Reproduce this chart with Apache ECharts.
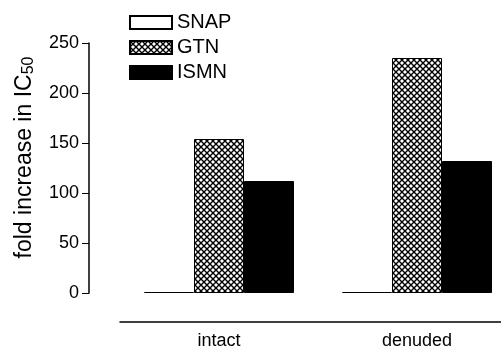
<!DOCTYPE html>
<html>
<head>
<meta charset="utf-8">
<script src="https://cdn.jsdelivr.net/npm/echarts@6/dist/echarts.min.js"></script>
<style>
  html, body { margin: 0; padding: 0; background: #fff; }
  #chart { width: 501px; height: 348px; }
</style>
</head>
<body>
<div id="chart"></div>
<script>
const categories = ['intact', 'denuded'];
const snap = [1, 1];
const gtn = [154, 235];
const ismn = [112, 132];
const yTicks = [0, 50, 100, 150, 200, 250];

// cross hatch tile
function hatch() {
  const c = document.createElement('canvas');
  c.width = 6; c.height = 6;
  const g = c.getContext('2d');
  g.fillStyle = '#fff';
  g.fillRect(0, 0, 6, 6);
  g.strokeStyle = '#000';
  g.lineWidth = 1.4;
  g.beginPath();
  g.moveTo(-1, -1); g.lineTo(7, 7);
  g.moveTo(7, -1); g.lineTo(-1, 7);
  g.stroke();
  return c;
}

const font = 'Liberation Sans, Arial, sans-serif';
const chart = echarts.init(document.getElementById('chart'));
chart.setOption({
  animation: false,
  grid: { left: 120, top: 43, right: -15, bottom: 55, outerBoundsMode: 'none', containLabel: false },
  legend: {
    orient: 'vertical', left: 124, top: 7,
    icon: 'rect',
    itemWidth: 42, itemHeight: 13, itemGap: 4,
    textStyle: { fontFamily: font, fontSize: 20, lineHeight: 21, color: '#000', padding: [0, 0, 0, 0] },
    data: ['SNAP', 'GTN', 'ISMN']
  },
  xAxis: {
    type: 'category', data: categories, offset: 29,
    axisLine: { onZero: false, lineStyle: { color: '#000', width: 1.5 } },
    axisTick: { show: false },
    axisLabel: { fontFamily: font, fontSize: 18, color: '#000', margin: 10 }
  },
  yAxis: {
    type: 'value', min: yTicks[0], max: yTicks[yTicks.length - 1], interval: 50,
    offset: 31,
    name: '{a|fold increase in IC}{s|50}',
    nameLocation: 'middle', nameGap: 52, nameRotate: 90,
    nameTextStyle: {
      padding: [0, 0, 0, 21],
      rich: {
        a: { fontFamily: font, fontSize: 23, color: '#000' },
        s: { fontFamily: font, fontSize: 16, color: '#000', verticalAlign: 'bottom', padding: [8, 0, 0, 0] }
      }
    },
    splitLine: { show: false },
    axisLine: { show: true, lineStyle: { color: '#000', width: 1.5 } },
    axisTick: { show: true, length: 7, lineStyle: { color: '#000', width: 1 } },
    axisLabel: { fontFamily: font, fontSize: 18, color: '#000', margin: 10 }
  },
  series: [
    { name: 'SNAP', type: 'bar', data: snap, barWidth: 50, barGap: '0%',
      itemStyle: { color: '#fff', borderColor: '#000', borderWidth: 1 } },
    { name: 'GTN', type: 'bar', data: gtn, barWidth: 50, barGap: '0%',
      itemStyle: { color: { image: hatch(), repeat: 'repeat' }, borderColor: '#000', borderWidth: 1 } },
    { name: 'ISMN', type: 'bar', data: ismn, barWidth: 50, barGap: '0%',
      itemStyle: { color: '#000', borderColor: '#000', borderWidth: 1 } }
  ]
});
</script>
</body>
</html>
